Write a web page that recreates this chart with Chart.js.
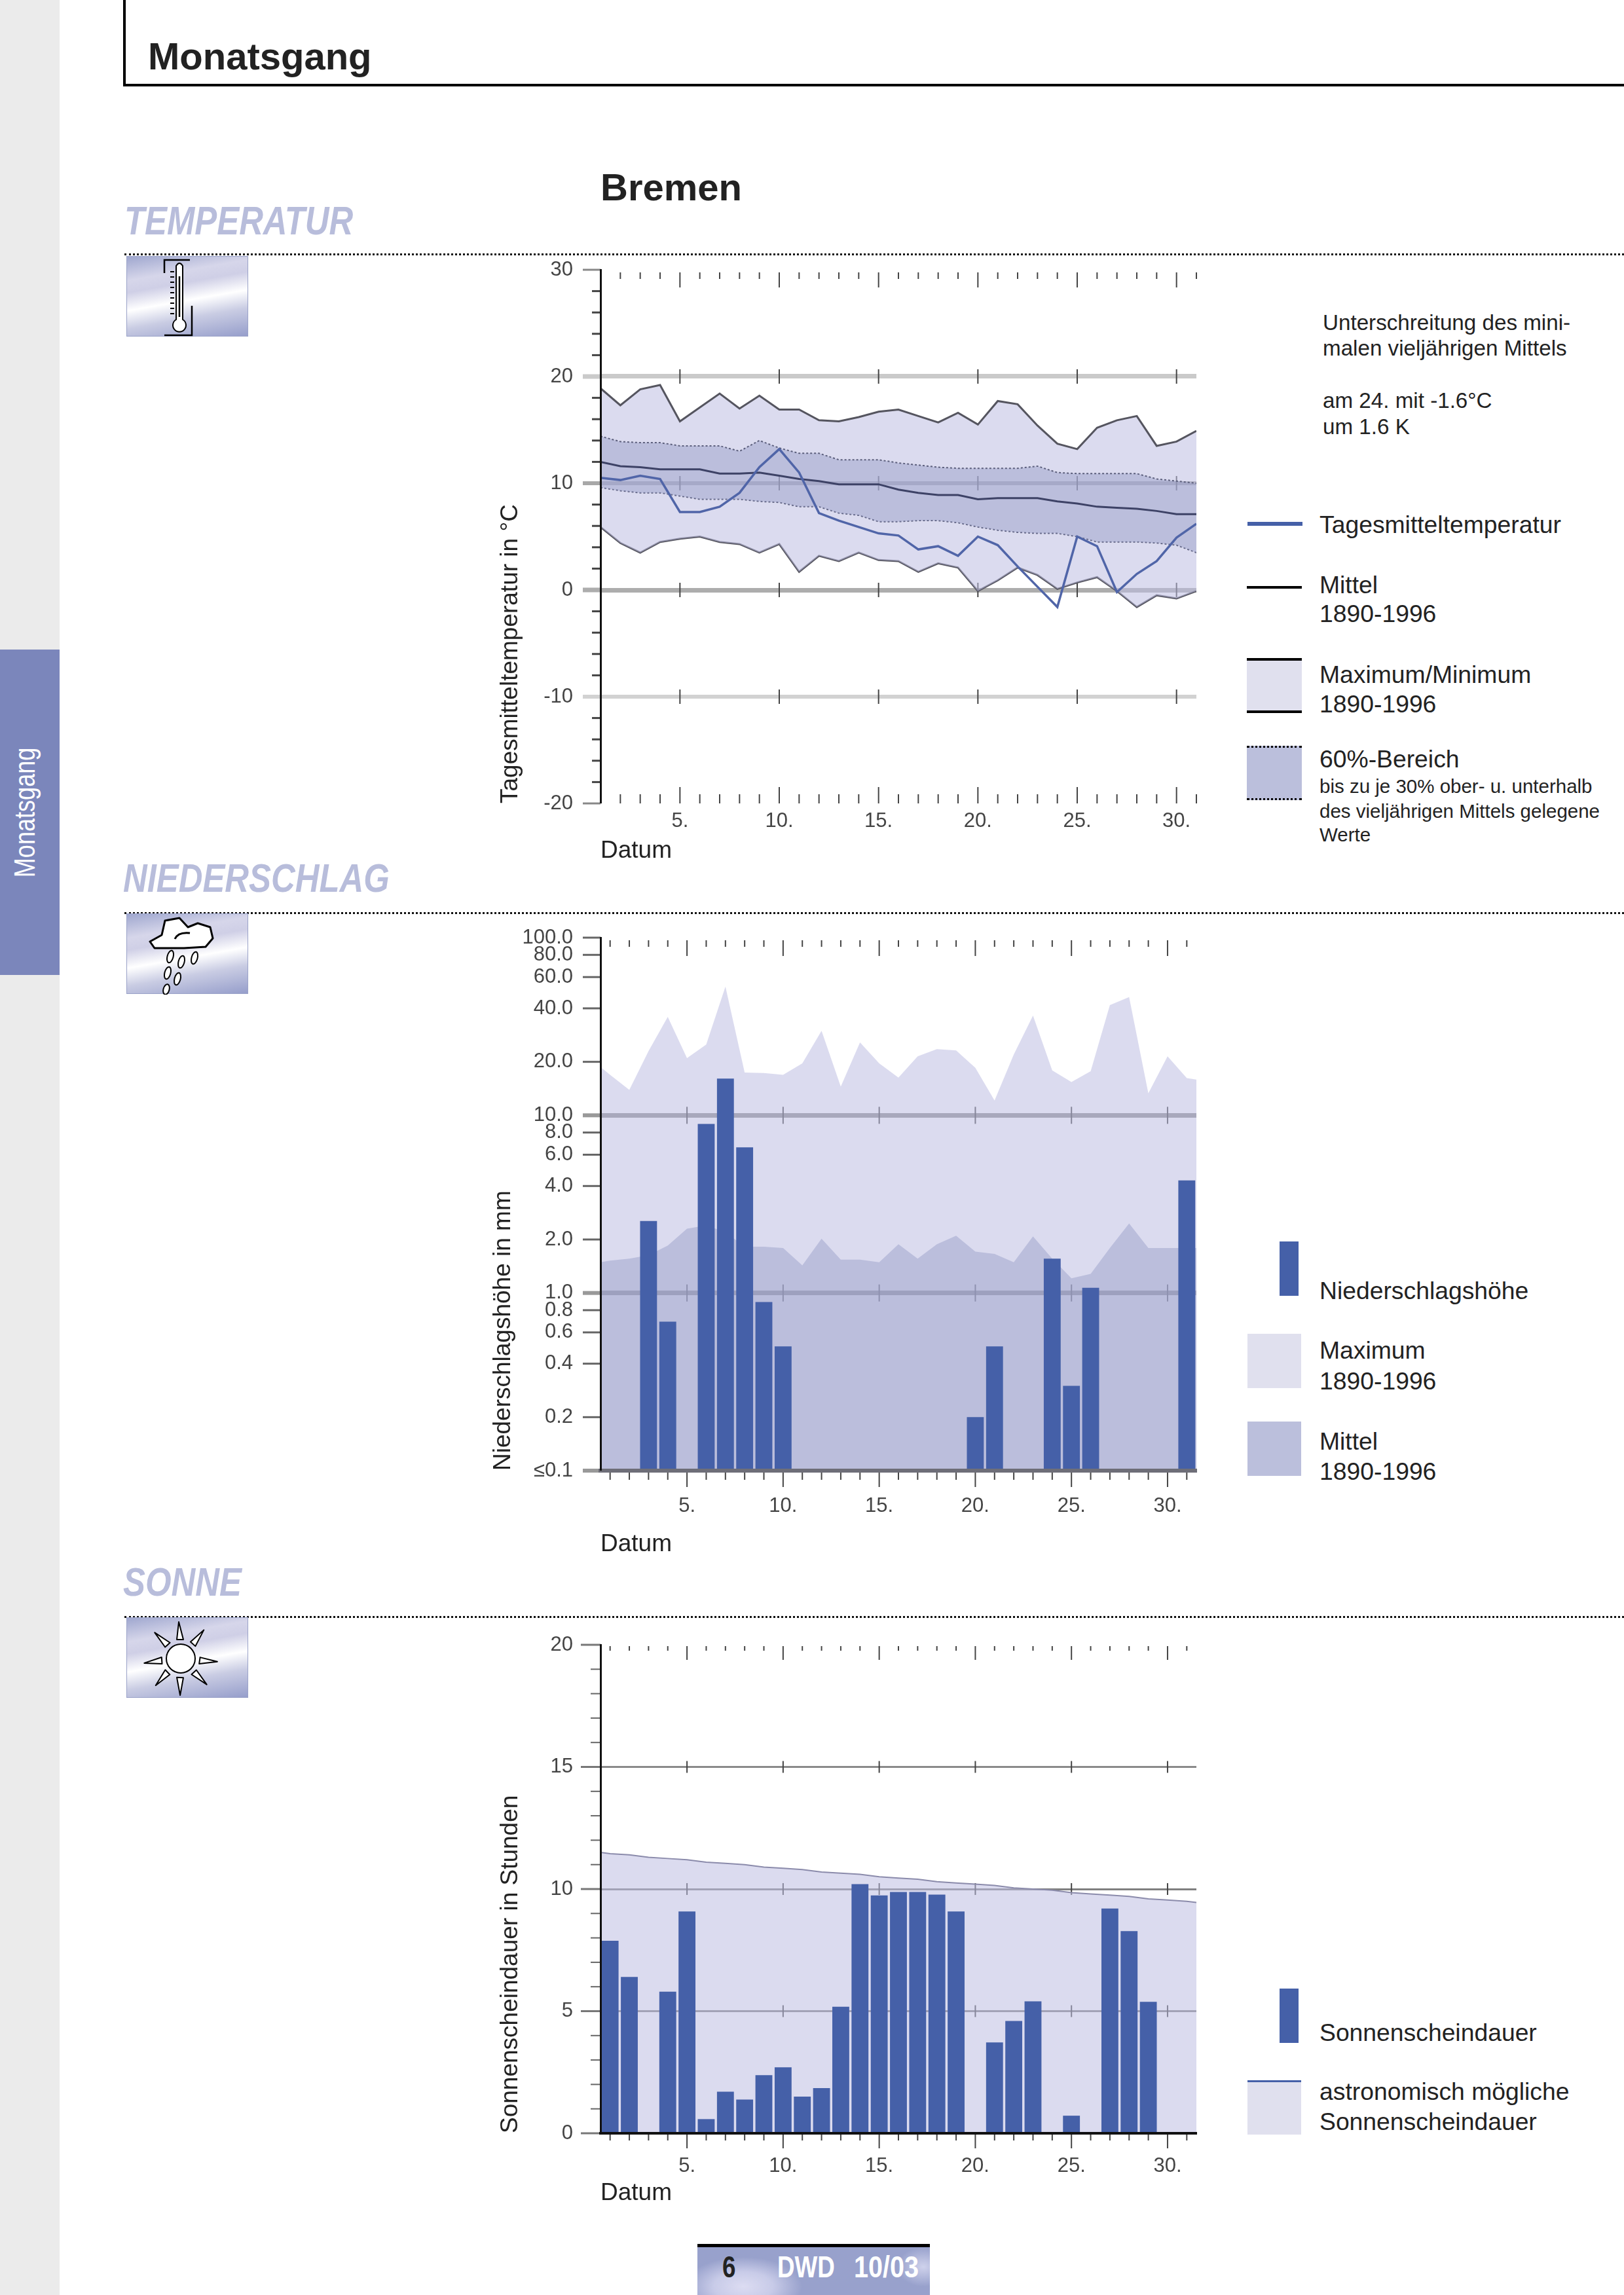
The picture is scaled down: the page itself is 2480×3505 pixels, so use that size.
<!DOCTYPE html>
<html lang="de">
<head>
<meta charset="utf-8">
<title>Monatsgang Bremen</title>
<script src="https://cdn.jsdelivr.net/npm/chart.js@4/dist/chart.umd.min.js"></script>
<style>
  html, body { margin: 0; padding: 0; background: #fff; }
  #page { position: relative; width: 2480px; height: 3505px; overflow: hidden; font-family: "Liberation Sans", Arial, sans-serif; color: #222; }
  #page div, #page svg, #page canvas { position: absolute; }
  .t { white-space: nowrap; transform: translateY(-50%); transform-origin: left center; line-height: 1.1; }
  .head { font-weight: bold; font-style: italic; font-size: 62px; color: #b8bddb; transform: translateY(-50%) scaleX(0.82); }
  .dots { left: 190px; right: 0; height: 0; border-top: 3px dotted #111; }
  .icon { left: 193px; width: 186px; height: 123px; box-sizing: border-box; border: 1px solid #9aa2c8;
          background: linear-gradient(170deg, #9fa7cf 0%, #d6d6ea 24%, #cfcfe6 36%, #fff 54%, #c9cce3 72%, #969ecb 100%); }
  .icon svg { left: 0; top: 0; width: 186px; height: 123px; }
</style>
</head>
<body>
<div id="page">
  <div style="left:0;top:0;width:91px;height:3505px;background:#ebebeb"></div>
  <div style="left:0;top:992px;width:91px;height:497px;background:#7b86bb"></div>
  <div class="t" style="left:38px;top:1316px;color:#fff;font-size:44px;transform:rotate(-90deg) scaleX(0.82);transform-origin:left center">Monatsgang</div>
  <div style="left:188px;top:0;width:4px;height:132px;background:#000"></div>
  <div style="left:188px;top:128px;right:0;height:4px;background:#000"></div>

  <div class="dots" style="top:387px"></div>
  <div class="dots" style="top:1393px"></div>
  <div class="dots" style="top:2468px"></div>

  <div class="icon" style="top:391px">
    <svg viewBox="0 0 186 123">
      <path d="M57 25V5H96M99 75V120H57" fill="none" stroke="#000" stroke-width="2.5"/>
      <path d="M75 14Q80 6 85 14V96A10 10 0 1 1 75 96Z" fill="#fff" stroke="#000" stroke-width="2"/>
      <path d="M80 30V92" stroke="#000" stroke-width="2.5"/>
      <path d="M66 23h6M66 31h6M66 39h6M66 47h6M66 55h6M66 63h6M66 71h6M66 79h6M66 87h6" stroke="#000" stroke-width="2"/>
    </svg>
  </div>
  <div class="icon" style="top:1395px">
    <svg viewBox="0 0 186 123">
      <path d="M35 42L53 32L58 10L80 6L93 20L108 14L127 20L131 37L120 50L87 52L42 52Z" fill="#fff" stroke="#000" stroke-width="3" stroke-linejoin="round"/>
      <path d="M73 38Q78 27 96 29" fill="none" stroke="#000" stroke-width="3"/>
      <g fill="#fff" stroke="#000" stroke-width="2">
        <ellipse cx="66" cy="65" rx="4.5" ry="9.5" transform="rotate(15 66 65)"/>
        <ellipse cx="83" cy="73" rx="4.5" ry="9.5" transform="rotate(15 83 73)"/>
        <ellipse cx="103" cy="67" rx="4.5" ry="9.5" transform="rotate(15 103 67)"/>
        <ellipse cx="62" cy="90" rx="4.5" ry="9.5" transform="rotate(15 62 90)"/>
        <ellipse cx="77" cy="99" rx="4.5" ry="9.5" transform="rotate(15 77 99)"/>
        <ellipse cx="60" cy="115" rx="4.5" ry="8" transform="rotate(15 60 115)"/>
      </g>
    </svg>
  </div>
  <div class="icon" style="top:2470px">
    <svg viewBox="0 0 186 123">
      <circle cx="82" cy="62" r="22" fill="#fff" stroke="#000" stroke-width="2"/>
      <g fill="#fff" stroke="#000" stroke-width="2" stroke-linejoin="round">
        <path id="ray" d="M76 33L79 6L86 33Z"/>
        <use href="#ray" transform="rotate(42 82 62)"/>
        <use href="#ray" transform="rotate(98 82 62)"/>
        <use href="#ray" transform="rotate(138 82 62)"/>
        <use href="#ray" transform="rotate(184 82 62)"/>
        <use href="#ray" transform="rotate(226 82 62)"/>
        <use href="#ray" transform="rotate(266 82 62)"/>
        <use href="#ray" transform="rotate(318 82 62)"/>
      </g>
    </svg>
  </div>

  <!-- legend swatches -->
  <div style="left:1905px;top:797px;width:84px;height:6px;background:#4560a8"></div>
  <div style="left:1904px;top:895px;width:84px;height:4px;background:#000"></div>
  <div style="left:1904px;top:1005px;width:84px;height:84px;box-sizing:border-box;background:#e0e0ee;border-top:4px solid #000;border-bottom:4px solid #000"></div>
  <div style="left:1904px;top:1139px;width:84px;height:83px;box-sizing:border-box;background:#bbbfdc;border-top:3px dotted #000;border-bottom:3px dotted #000"></div>
  <div style="left:1954px;top:1896px;width:29px;height:83px;background:#4560a8"></div>
  <div style="left:1905px;top:2037px;width:82px;height:83px;background:#e0e0ee"></div>
  <div style="left:1905px;top:2171px;width:82px;height:83px;background:#bbbfdc"></div>
  <div style="left:1954px;top:3037px;width:29px;height:83px;background:#4560a8"></div>
  <div style="left:1905px;top:3177px;width:82px;height:83px;box-sizing:border-box;background:#e0e0ee;border-top:3px solid #4560a8"></div>

  <!-- footer -->
  <div style="left:1065px;top:3427px;width:355px;height:78px;box-sizing:border-box;border-top:5px solid #000;
              background:radial-gradient(ellipse 90px 45px at 70px 60px,#dcdcf2 0%,#c8cbe8 50%,transparent 100%),
                         radial-gradient(ellipse 40px 30px at 345px 30px,#cfd2ec 0%,transparent 100%),#98a1cc"></div>

  <canvas id="tempChart" width="1160" height="975" style="left:700px;top:347px"></canvas>
  <canvas id="rainChart" width="1160" height="1014" style="left:700px;top:1367px"></canvas>
  <canvas id="sunChart" width="1160" height="925" style="left:700px;top:2447px"></canvas>
</div>

<script>
// Day positions
const days = [1,2,3,4,5,6,7,8,9,10,11,12,13,14,15,16,17,18,19,20,21,22,23,24,25,26,27,28,29,30,31];
const labelledDays = [5,10,15,20,25,30];

// Temperature in deg C
const tempActual = [10.5,10.3,10.7,10.4,7.3,7.3,7.8,9.1,11.5,13.2,11,7.2,6.5,5.9,5.3,5.1,3.8,4.1,3.2,5,4.2,2.2,0.3,-1.6,5,4.1,-0.2,1.5,2.7,4.9,6.2];
const tempMean = [12,11.6,11.5,11.3,11.3,11.3,10.9,10.9,11,10.7,10.4,10.2,9.9,9.9,9.9,9.4,9.1,8.9,8.9,8.5,8.6,8.6,8.6,8.3,8.1,7.8,7.7,7.6,7.4,7.1,7.1];
const tempMax = [18.9,17.3,18.8,19.2,15.8,17.1,18.4,17,18.2,16.9,16.9,15.9,15.8,16.2,16.7,16.9,16.3,15.7,16.6,15.5,17.7,17.4,15.4,13.7,13.2,15.2,15.9,16.3,13.5,13.9,14.9];
const tempMin = [5.9,4.4,3.5,4.5,4.8,5,4.5,4.3,3.5,4.3,1.7,3.2,2.7,3.5,2.8,2.7,1.7,2.5,2.1,-0.1,0.9,2.1,1.4,0.1,0.7,1.2,-0.1,-1.6,-0.5,-0.8,-0.1];
const tempUpper = [14.4,13.9,13.8,13.8,13.5,13.5,13.5,13,14,13.3,12.8,12.8,12.2,12.2,12.2,11.9,11.7,11.5,11.4,11.4,11.4,11.4,11.6,11,10.9,10.9,10.9,10.9,10.4,10.2,10];
const tempLower = [9.6,9.3,9.1,9.1,8.8,8.5,8.5,8.5,8.3,8.2,7.8,7.8,7.2,7,6.4,6.4,6.5,6.5,6.3,5.9,5.6,5.4,5.3,5.3,5,4.5,4.5,4.5,4.4,4.2,3.5];

// Precipitation in mm; the area arrays carry one extra value at each plot edge
const areaDays = [0.5,1,2,3,4,5,6,7,8,9,10,11,12,13,14,15,16,17,18,19,20,21,22,23,24,25,26,27,28,29,30,31,31.5];
const rainAmount = [0,0,2.54,0.69,0,8.95,16.1,6.6,0.89,0.5,0,0,0,0,0,0,0,0,0,0.2,0.5,0,0,1.56,0.3,1.07,0,0,0,0,4.3];
const rainMax = [18.7,16.9,13.9,23,35.8,21,25,53,17.4,17.3,16.9,19.6,29.9,14.5,25.7,19.6,16.3,21.5,23.6,23.2,18.5,12.1,22,36.4,17.9,15.4,17.7,41.7,46.3,13.3,21.5,16.2,15.9];
const rainMean = [1.49,1.52,1.56,1.63,1.85,2.3,2.4,2.2,1.82,1.82,1.79,1.43,2.02,1.54,1.54,1.49,1.88,1.56,1.88,2.1,1.71,1.66,1.49,2.08,1.56,1.21,1.28,1.79,2.46,1.79,1.79,1.79,1.79];
const rainTicks = [0.1,0.2,0.4,0.6,0.8,1,2,4,6,8,10,20,40,60,80,100];
const rainTickLabels = ['≤0.1','0.2','0.4','0.6','0.8','1.0','2.0','4.0','6.0','8.0','10.0','20.0','40.0','60.0','80.0','100.0'];

// Sunshine in hours
const sunHours = [7.88,6.4,0,5.8,9.08,0.58,1.7,1.38,2.38,2.7,1.5,1.85,5.18,10.2,9.74,9.88,9.88,9.77,9.08,0,3.72,4.6,5.4,0,0.72,0,9.2,8.28,5.38,0,0];
const sunPossible = [11.5,11.45,11.4,11.3,11.25,11.2,11.1,11.05,11,10.9,10.85,10.8,10.7,10.65,10.6,10.5,10.45,10.4,10.3,10.25,10.2,10.15,10.05,10,9.95,9.85,9.8,9.75,9.7,9.6,9.55,9.5,9.45];

// Page texts: x, vertical centre, size, text
const pageTexts = [
    [226, 86, 58, 'Monatsgang', 'font-weight:bold'],
    [917, 286, 58, 'Bremen', 'font-weight:bold'],
    [2020, 493, 33.2, 'Unterschreitung des mini-'],
    [2020, 532, 33.2, 'malen vieljährigen Mittels'],
    [2020, 612, 33.2, 'am 24. mit -1.6°C'],
    [2020, 652, 33.2, 'um 1.6 K'],
    [2015, 802, 37.3, 'Tagesmitteltemperatur'],
    [2015, 894, 37.3, 'Mittel'],
    [2015, 938, 37.3, '1890-1996'],
    [2015, 1031, 37.3, 'Maximum/Minimum'],
    [2015, 1076, 37.3, '1890-1996'],
    [2015, 1160, 37.3, '60%-Bereich'],
    [2015, 1201, 29.5, 'bis zu je 30% ober- u. unterhalb'],
    [2015, 1239, 29.5, 'des vieljährigen Mittels gelegene'],
    [2015, 1275, 29.5, 'Werte'],
    [2015, 1972, 37.3, 'Niederschlagshöhe'],
    [2015, 2063, 37.3, 'Maximum'],
    [2015, 2110, 37.3, '1890-1996'],
    [2015, 2202, 37.3, 'Mittel'],
    [2015, 2248, 37.3, '1890-1996'],
    [2015, 3105, 37.3, 'Sonnenscheindauer'],
    [2015, 3195, 37.3, 'astronomisch mögliche'],
    [2015, 3241, 37.3, 'Sonnenscheindauer'],
    [1103, 3462, 46, '6', 'font-weight:bold;transform:translateY(-50%) scaleX(0.8)'],
    [1187, 3462, 46, 'DWD', 'font-weight:bold;color:#fff;transform:translateY(-50%) scaleX(0.8)'],
    [1304, 3462, 46, '10/03', 'font-weight:bold;color:#fff;transform:translateY(-50%) scaleX(0.86)']
];
const sectionHeads = [[190, 337, 'TEMPERATUR'], [188, 1341, 'NIEDERSCHLAG'], [188, 2416, 'SONNE']];

const pageEl = document.getElementById('page');
function addText(x, y, size, text, extra) {
    const el = document.createElement('div');
    el.className = 't';
    el.style.cssText = `left:${x}px;top:${y}px;font-size:${size}px;${extra || ''}`;
    el.textContent = text;
    pageEl.appendChild(el);
}
pageTexts.forEach(t => addText(t[0], t[1], t[2], t[3], t[4]));
sectionHeads.forEach(h => {
    const el = document.createElement('div');
    el.className = 't head';
    el.style.left = h[0] + 'px';
    el.style.top = h[1] + 'px';
    el.textContent = h[2];
    pageEl.appendChild(el);
});

Chart.defaults.font.family = '"Liberation Sans", Arial, sans-serif';
Chart.defaults.color = '#222';

const OUTER_FILL = 'rgba(190, 190, 225, 0.55)';
const INNER_FILL = 'rgba(150, 158, 200, 0.47)';
const BAR_BLUE = '#4560a8';
const TICK_DARK = '#444';

function toPoints(xs, ys) {
    return xs.map((x, i) => ({ x: x, y: ys[i] }));
}

// Day ticks along top and bottom, day marks on the grid lines, y ticks
const axisMarks = {
    id: 'axisMarks',
    beforeDatasetsDraw(chart, args, o) {
        const { ctx, chartArea: a, scales: { x, y } } = chart;
        const line = (x1, y1, x2, y2, w, color) => {
            ctx.beginPath();
            ctx.lineWidth = w;
            ctx.strokeStyle = color;
            ctx.moveTo(x1, y1);
            ctx.lineTo(x2, y2);
            ctx.stroke();
        };
        ctx.save();
        days.forEach(d => {
            const px = x.getPixelForValue(d);
            const major = d % 5 === 0;
            line(px, a.top + o.topStart, px, a.top + (major ? o.topLong : o.topShort), 2, TICK_DARK);
            line(px, a.bottom, px, a.bottom + o.bottomDir * (major ? o.bottomLong : o.bottomShort), 2, TICK_DARK);
            if (major) {
                o.crossAt.forEach(v => {
                    const py = y.getPixelForValue(v);
                    line(px, py - o.crossHalf, px, py + o.crossHalf, 2, TICK_DARK);
                });
            }
        });
        y.ticks.forEach(t => {
            const s = o.yTick(t.value);
            const py = y.getPixelForValue(t.value);
            line(a.left - s.len, py, a.left, py, s.w, s.color);
        });
        ctx.restore();
    }
};

function baseOptions(padding, yWidth, xHeight, labelGap, xMin, xMax, xBorder) {
    return {
        responsive: false,
        animation: false,
        events: [],
        layout: { padding: padding },
        elements: { point: { radius: 0 }, line: { tension: 0 } },
        plugins: { legend: { display: false }, tooltip: { enabled: false } },
        scales: {
            x: {
                type: 'linear',
                min: xMin,
                max: xMax,
                offset: false,
                afterFit: scale => { scale.height = xHeight; },
                afterBuildTicks: scale => { scale.ticks = labelledDays.map(d => ({ value: d })); },
                grid: { display: true, drawOnChartArea: false, drawTicks: false, offset: false },
                border: xBorder,
                ticks: {
                    padding: labelGap,
                    color: '#444',
                    font: { size: 31 },
                    autoSkip: false,
                    maxRotation: 0,
                    callback: v => v + '.'
                },
                title: {
                    display: true,
                    text: 'Datum',
                    align: 'start',
                    color: '#222',
                    font: { size: 37 },
                    padding: 0
                }
            },
            y: {
                afterFit: scale => { scale.width = yWidth; },
                border: { color: '#111', width: 3, z: 1 },
                ticks: { padding: 42, color: '#444', font: { size: 31 }, autoSkip: false },
                title: { display: true, align: 'start', color: '#222', font: { size: 37 }, padding: 0 }
            }
        }
    };
}

function gridOf(styles) {
    return {
        drawTicks: false,
        color: c => (c.tick && styles[c.tick.value] ? styles[c.tick.value][1] : 'transparent'),
        lineWidth: c => (c.tick && styles[c.tick.value] ? styles[c.tick.value][0] : 0)
    };
}

// Temperature chart
function createTempChart() {
    const lines = { 20: [7, '#cacaca'], 10: [6, '#a8a8a8'], 0: [7, '#adadad'], '-10': [6, '#d2d2d2'] };
    const options = baseOptions({ left: 58, right: 33, top: 65, bottom: 0 }, 159, 95, 9, 1, 31, { display: false });
    options.scales.y.min = -20;
    options.scales.y.max = 30;
    options.scales.y.grid = gridOf(lines);
    options.scales.y.ticks.stepSize = 2;
    options.scales.y.ticks.callback = v => (v % 10 === 0 ? String(v) : '');
    options.scales.y.title.text = 'Tagesmitteltemperatur in °C';
    options.plugins.axisMarks = {
        topStart: 4, topShort: 14, topLong: 27,
        bottomDir: -1, bottomShort: 14, bottomLong: 25,
        crossAt: [20, 10, 0, -10], crossHalf: 11,
        yTick: v => {
            if (lines[v]) return { len: 27, w: lines[v][0], color: lines[v][1] };
            if (v % 10 === 0) return { len: 27, w: 3, color: '#888' };
            return { len: 13, w: 3, color: TICK_DARK };
        }
    };
    return new Chart(document.getElementById('tempChart'), {
        type: 'line',
        plugins: [axisMarks],
        data: {
            datasets: [
                { data: toPoints(days, tempActual), borderColor: '#5065a8', borderWidth: 3.5 },
                { data: toPoints(days, tempMean), borderColor: '#3d4266', borderWidth: 3 },
                { data: toPoints(days, tempUpper), borderColor: '#5c5f7c', borderWidth: 2, borderDash: [3, 3], backgroundColor: INNER_FILL, fill: '+1' },
                { data: toPoints(days, tempLower), borderColor: '#5c5f7c', borderWidth: 2, borderDash: [3, 3] },
                { data: toPoints(days, tempMax), borderColor: '#55555f', borderWidth: 3, backgroundColor: OUTER_FILL, fill: '+1' },
                { data: toPoints(days, tempMin), borderColor: '#55555f', borderWidth: 3 }
            ]
        },
        options: options
    });
}

// Precipitation chart
function createRainChart() {
    const lines = { 10: [7, '#8f8f8f'], 1: [7, '#808080'] };
    const options = baseOptions({ left: 47, right: 33, top: 65, bottom: 0 }, 170, 135, 36, 0.5, 31.5,
        { display: true, color: '#6e6e78', width: 6, z: 1 });
    options.scales.y.type = 'logarithmic';
    options.scales.y.min = 0.1;
    options.scales.y.max = 100;
    options.scales.y.grid = gridOf(lines);
    options.scales.y.afterBuildTicks = scale => { scale.ticks = rainTicks.map(v => ({ value: v })); };
    options.scales.y.ticks.callback = v => rainTickLabels[rainTicks.indexOf(v)];
    options.scales.y.title.text = 'Niederschlagshöhe in mm';
    options.plugins.axisMarks = {
        topStart: 4, topShort: 14, topLong: 28,
        bottomDir: 1, bottomShort: 14, bottomLong: 25,
        crossAt: [10, 1], crossHalf: 13,
        yTick: v => (lines[v] || v === 0.1
            ? { len: 27, w: 6, color: '#999' }
            : { len: 27, w: 3, color: '#666' })
    };
    return new Chart(document.getElementById('rainChart'), {
        type: 'line',
        plugins: [axisMarks],
        data: {
            datasets: [
                { type: 'bar', data: toPoints(days, rainAmount), backgroundColor: BAR_BLUE, barPercentage: 0.88, categoryPercentage: 1 },
                { data: toPoints(areaDays, rainMean), borderWidth: 0, backgroundColor: INNER_FILL, fill: 'start' },
                { data: toPoints(areaDays, rainMax), borderWidth: 0, backgroundColor: OUTER_FILL, fill: 'start' }
            ]
        },
        options: options
    });
}

// Sunshine chart
function createSunChart() {
    const lines = { 15: [3, '#8a8a8a'], 10: [3, '#808080'], 5: [3, '#808080'] };
    const options = baseOptions({ left: 58, right: 33, top: 65, bottom: 0 }, 159, 114, 32, 0.5, 31.5,
        { display: true, color: '#111', width: 4, z: 1 });
    options.scales.y.min = 0;
    options.scales.y.max = 20;
    options.scales.y.grid = gridOf(lines);
    options.scales.y.ticks.stepSize = 1;
    options.scales.y.ticks.callback = v => (v % 5 === 0 ? String(v) : '');
    options.scales.y.title.text = 'Sonnenscheindauer in Stunden';
    options.plugins.axisMarks = {
        topStart: 2, topShort: 9, topLong: 23,
        bottomDir: 1, bottomShort: 11, bottomLong: 23,
        crossAt: [15, 10, 5], crossHalf: 9,
        yTick: v => (v % 5 === 0
            ? { len: 30, w: 3, color: '#777' }
            : { len: 15, w: 2, color: '#666' })
    };
    return new Chart(document.getElementById('sunChart'), {
        type: 'line',
        plugins: [axisMarks],
        data: {
            datasets: [
                { type: 'bar', data: toPoints(days, sunHours), backgroundColor: BAR_BLUE, barPercentage: 0.88, categoryPercentage: 1 },
                { data: toPoints(areaDays, sunPossible), borderColor: '#8b8bab', borderWidth: 2, backgroundColor: OUTER_FILL, fill: 'start' }
            ]
        },
        options: options
    });
}

createTempChart();
createRainChart();
createSunChart();
</script>
</body>
</html>
